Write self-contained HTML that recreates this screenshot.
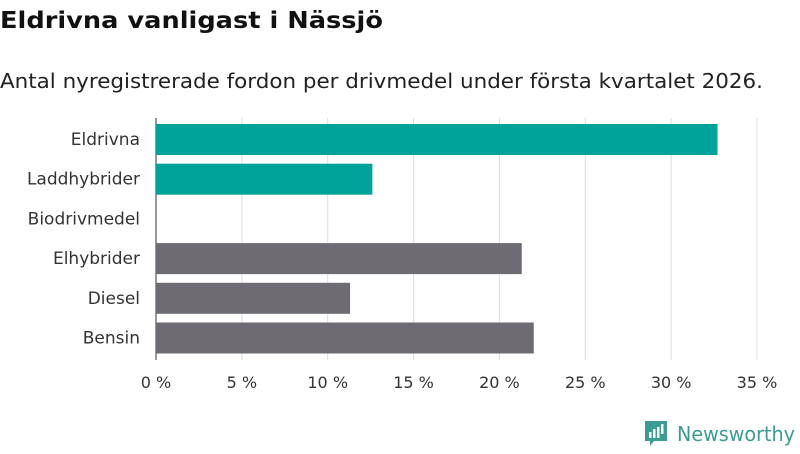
<!DOCTYPE html>
<html><head><meta charset="utf-8"><style>
body{margin:0;width:800px;height:450px;background:#fff;overflow:hidden;font-family:"DejaVu Sans","Liberation Sans",sans-serif}
</style></head><body>
<svg width="800" height="450" id="chart" font-family="DejaVu Sans, Liberation Sans, sans-serif">
<text x="0" y="28" font-size="23" font-weight="bold" fill="#111" textLength="383" lengthAdjust="spacingAndGlyphs">Eldrivna vanligast i Nässjö</text>
<text x="0" y="88" font-size="20" fill="#222" textLength="763" lengthAdjust="spacingAndGlyphs">Antal nyregistrerade fordon per drivmedel under första kvartalet 2026.</text>
<g id="grid"></g><g id="bars"></g><g id="labels"></g><g id="ticks"></g>
<g>
<path d="M645 421 h22 v20 h-13 l-4 5 v-5 h-5 z" fill="#3a9c93"/>
<rect x="649" y="432" width="2.5" height="6" fill="#fff"/><rect x="653" y="429" width="2.5" height="9" fill="#fff"/><rect x="657" y="427" width="2.5" height="11" fill="#fff"/><rect x="661" y="424" width="2.5" height="10" fill="#fff"/>
<text x="677" y="441" font-size="20" fill="#3a9c93" textLength="118" lengthAdjust="spacingAndGlyphs">Newsworthy</text>
</g>
</svg>
<script>
const categories=["Eldrivna","Laddhybrider","Biodrivmedel","Elhybrider","Diesel","Bensin"];
const values=[32.7,12.6,0,21.3,11.3,22.0];
const colors=["#00a39a","#00a39a","#00a39a","#6e6c72","#6e6c72","#6e6c72"];
const ticks=[0,5,10,15,20,25,30,35];
const NS="http://www.w3.org/2000/svg";
const x=v=>156+v*(757-156)/35;
const y=i=>124+i*39.7;
function mk(t,a,p){const e=document.createElementNS(NS,t);for(const k in a)e.setAttribute(k,a[k]);p.appendChild(e);return e;}
ticks.forEach(t=>{
 const l=mk('line',{x1:x(t),x2:x(t),y1:118,y2:360,stroke:t===0?'#333':'#ddd','stroke-width':1},document.getElementById('grid'));
 
 
 const tx=mk('text',{x:x(t),y:388,'font-size':16,fill:'#333','text-anchor':'middle'},document.getElementById('ticks'));
 tx.textContent=t+' %';
 
 
});
categories.forEach((c,i)=>{
 const r=mk('rect',{x:x(0),y:y(i),width:x(values[i])-x(0),height:31,fill:colors[i]},document.getElementById('bars'));
 
 
 const t=mk('text',{x:140,y:y(i)+21,'font-size':17,fill:'#333','text-anchor':'end'},document.getElementById('labels'));
 t.textContent=c;
 
 
});
</script>
</body></html>
